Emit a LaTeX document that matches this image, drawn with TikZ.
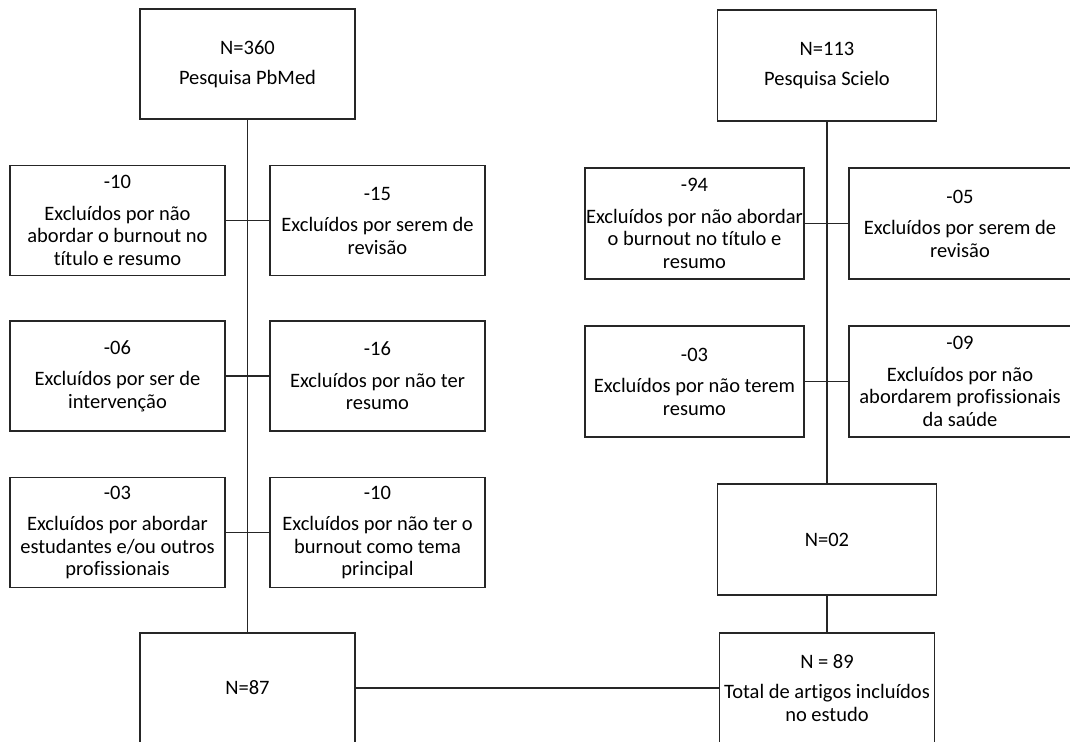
\documentclass[tikz,border=0pt]{standalone}
\usepackage{fontspec}
\setmainfont[Ligatures=NoCommon]{Carlito}
\begin{document}
\begin{tikzpicture}[x=1pt, y=-1pt, line width=1.2pt, font=\fontsize{20.5}{22.5}\selectfont,
    box/.style={rectangle, draw=black!85, align=center, inner sep=0pt, minimum width=215pt, minimum height=110pt},
    wbox/.style={box, minimum width=219pt, minimum height=111pt}]
\useasboundingbox (0,0) rectangle (1070,741);
    % PubMed
    \node[box](Pub) at (247.5,64){N=360\\[8pt]Pesquisa PbMed};
    \node[box](L1) at (117.5,220.5){-10\\[9pt]Excluídos por não\\abordar o burnout no\\título e resumo};
    \node[box](R1) at (377.5,220.5){-15\\[9pt]Excluídos por serem de\\revisão};
    \node[box](L2) at (117.5,376){-06\\[9pt]Excluídos por ser de\\intervenção};
    \node[box](R2) at (377.5,376){-16\\[9pt]Excluídos por não ter\\resumo};
    \node[box](L3) at (117.5,532.5){-03\\[9pt]Excluídos por abordar\\estudantes e/ou outros\\profissionais};
    \node[box](R3) at (377.5,532.5){-10\\[9pt]Excluídos por não ter o\\burnout como tema\\principal};
    \node[box](N87) at (247.5,688){N=87};
    % Scielo
    \node[wbox](Sci) at (827,65.5){N=113\\[8pt]Pesquisa Scielo};
    \node[wbox](SL1) at (694.5,223.5){-94\\[9pt]Excluídos por não abordar\\o burnout no título e\\resumo};
    \node[wbox, minimum width=222pt](SR1) at (960,223.5){-05\\[9pt]Excluídos por serem de\\revisão};
    \node[wbox](SL2) at (694.5,381.5){-03\\[9pt]Excluídos por não terem\\resumo};
    \node[wbox, minimum width=222pt](SR2) at (960,381.5){-09\\[9pt]Excluídos por não\\abordarem profissionais\\da saúde};
    \node[wbox](N02) at (827,539.5){N=02};
    \node[box](N89) at (827,688){N = 89\\[8pt]Total de artigos incluídos\\no estudo};

\foreach \s/\t in {Pub/N87, Sci/N02, N02/N89, N87/N89, L1/R1, L2/R2, L3/R3, SL1/SR1, SL2/SR2}{
    \draw[black!85] (\s) -- (\t);}
\end{tikzpicture}
\end{document}
